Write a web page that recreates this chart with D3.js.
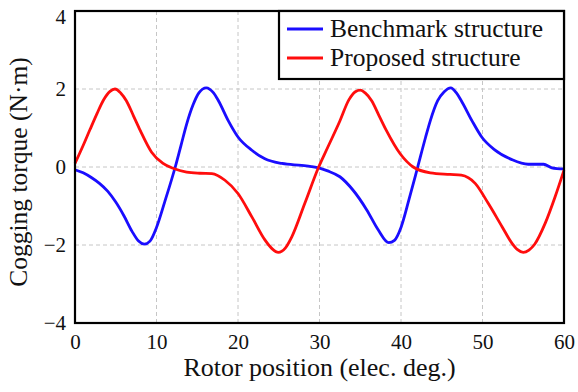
<!DOCTYPE html>
<html>
<head>
<meta charset="utf-8">
<script src="https://cdn.jsdelivr.net/npm/d3@7"></script>
<style>
  html, body { margin: 0; padding: 0; background: #fff; }
  svg { display: block; }
  svg text { font-family: "Liberation Serif", "DejaVu Serif", serif; }
</style>
</head>
<body>
<svg id="chart" width="578" height="392"></svg>
<script>
// Rotor position (elec. deg.) and cogging torque (N·m)
const benchDeg = [0, 1, 2, 3, 4, 5, 6, 7, 7.8, 8.5, 9.2, 10, 11, 12.3, 13, 13.7, 14.5, 15.2, 16.1, 17, 17.6, 18.8, 20, 21.7, 23.3, 25.4, 27.8, 29, 30, 31, 32.5, 34.1, 35.8, 37.2, 38.5, 39.2, 40, 41, 42.05, 43, 43.6, 44.5, 45.3, 46.1, 46.8, 47.4, 48.7, 49.9, 51.5, 53.6, 55.6, 57.5, 58.5, 60];
const benchTorque = [-0.07, -0.15, -0.27, -0.42, -0.62, -0.9, -1.25, -1.65, -1.9, -1.98, -1.9, -1.55, -0.9, 0, 0.55, 1.1, 1.6, 1.9, 2.03, 1.9, 1.7, 1.19, 0.77, 0.43, 0.21, 0.09, 0.04, 0.01, -0.03, -0.1, -0.25, -0.59, -1.1, -1.61, -1.94, -1.88, -1.55, -0.82, 0, 0.75, 1.19, 1.7, 1.93, 2.03, 1.9, 1.7, 1.19, 0.77, 0.44, 0.19, 0.07, 0.07, -0.02, -0.05];

const propDeg = [0, 1, 1.84, 2.7, 3.5, 4.3, 4.9, 5.6, 6.3, 7.2, 8, 9.4, 10.8, 12.1, 13.7, 15.3, 16.8, 18.4, 20, 21.7, 23.3, 24.2, 24.95, 25.8, 26.6, 28.2, 29.9, 31, 32.5, 33.6, 34.4, 35, 35.6, 36.4, 37.3, 38.2, 39.9, 41.5, 43.6, 46, 47.4, 49.1, 50.7, 52.4, 53.6, 54.3, 55, 55.7, 56.4, 57.7, 58.9, 60];
const propTorque = [0.09, 0.55, 0.96, 1.37, 1.72, 1.94, 2.0, 1.9, 1.7, 1.3, 0.94, 0.38, 0.09, -0.04, -0.13, -0.16, -0.17, -0.34, -0.68, -1.28, -1.87, -2.1, -2.19, -2.08, -1.79, -0.93, 0, 0.5, 1.18, 1.72, 1.93, 1.97, 1.9, 1.7, 1.32, 0.94, 0.34, 0.0, -0.15, -0.19, -0.21, -0.42, -0.93, -1.53, -1.95, -2.12, -2.19, -2.13, -1.98, -1.44, -0.77, -0.08];

const xTicks = [0, 10, 20, 30, 40, 50, 60];
const yTicks = [-4, -2, 0, 2, 4];

const seriesNames = ["Benchmark structure", "Proposed structure"];
const seriesColors = ["#1a0dff", "#ff0d0d"];

const W = 578, H = 392;
const margin = { top: 11, right: 14, bottom: 69, left: 75 };
const iw = W - margin.left - margin.right;
const ih = H - margin.top - margin.bottom;
const FONT = "'Liberation Serif', 'DejaVu Serif', serif";

const svg = d3.select("#chart");
const g = svg.append("g").attr("transform", `translate(${margin.left},${margin.top})`);

const x = d3.scaleLinear().domain([0, 60]).range([0, iw]);
const y = d3.scaleLinear().domain([-4, 4]).range([ih, 0]);

// Gridlines (dashed)
g.append("g").selectAll("line")
  .data(xTicks.slice(1, -1))
  .join("line")
  .attr("x1", d => x(d)).attr("x2", d => x(d))
  .attr("y1", 0).attr("y2", ih)
  .attr("stroke", "#c6c6c6").attr("stroke-width", 1)
  .attr("stroke-dasharray", "4,3");

g.append("g").selectAll("line")
  .data(yTicks.slice(1, -1))
  .join("line")
  .attr("x1", 0).attr("x2", iw)
  .attr("y1", d => y(d)).attr("y2", d => y(d))
  .attr("stroke", "#c6c6c6").attr("stroke-width", 1)
  .attr("stroke-dasharray", "4,3");

// Axes (labels only, the frame is drawn below)
const xAxis = g.append("g")
  .attr("transform", `translate(0,${ih})`)
  .call(d3.axisBottom(x).tickValues(xTicks).tickSize(0).tickPadding(11));
const yAxis = g.append("g")
  .call(d3.axisLeft(y).tickValues(yTicks).tickSize(0).tickPadding(9));

[xAxis, yAxis].forEach(a => {
  a.attr("font-family", null).attr("font-size", null);
  a.select(".domain").remove();
  a.selectAll("text")
    .attr("fill", "#111")
    .style("font-family", FONT)
    .style("font-size", "21px");
});
// top label sits a little lower than its tick, as in the figure
yAxis.selectAll(".tick text").filter(d => d === 4).attr("dy", "0.6em");

// Lines
const line = d3.line()
  .x(d => x(d[0]))
  .y(d => y(d[1]))
  .curve(d3.curveMonotoneX);

const benchData = benchDeg.map((d, i) => [d, benchTorque[i]]);
const propData = propDeg.map((d, i) => [d, propTorque[i]]);

g.append("path")
  .datum(benchData)
  .attr("fill", "none")
  .attr("stroke", seriesColors[0])
  .attr("stroke-width", 2.8)
  .attr("d", line);

g.append("path")
  .datum(propData)
  .attr("fill", "none")
  .attr("stroke", seriesColors[1])
  .attr("stroke-width", 2.8)
  .attr("d", line);

// Frame
g.append("rect")
  .attr("width", iw).attr("height", ih)
  .attr("fill", "none")
  .attr("stroke", "#000").attr("stroke-width", 2.2);

// Legend (top-right, sharing the frame's top edge)
const legW = 285, legH = 68;
const leg = g.append("g").attr("transform", `translate(${iw - legW},0)`);
leg.append("rect")
  .attr("width", legW).attr("height", legH)
  .attr("fill", "#fff")
  .attr("stroke", "#000").attr("stroke-width", 2.2);

seriesNames.forEach((name, i) => {
  const row = leg.append("g").attr("transform", `translate(0,${18 + i * 29})`);
  row.append("line")
    .attr("x1", 8).attr("x2", 44)
    .attr("stroke", seriesColors[i]).attr("stroke-width", 3);
  row.append("text")
    .attr("x", 51).attr("y", 8)
    .style("font-family", FONT)
    .style("font-size", "25.5px")
    .attr("fill", "#111")
    .text(name);
});

// Axis titles
svg.append("text")
  .attr("x", margin.left + iw / 2)
  .attr("y", 376)
  .attr("text-anchor", "middle")
  .style("font-family", FONT)
  .style("font-size", "26px")
  .attr("fill", "#111")
  .text("Rotor position (elec. deg.)");

svg.append("text")
  .attr("transform", `translate(27,${margin.top + ih / 2 + 5}) rotate(-90)`)
  .attr("text-anchor", "middle")
  .style("font-family", FONT)
  .style("font-size", "25.5px")
  .attr("fill", "#111")
  .text("Cogging torque (N·m)");
</script>
</body>
</html>
